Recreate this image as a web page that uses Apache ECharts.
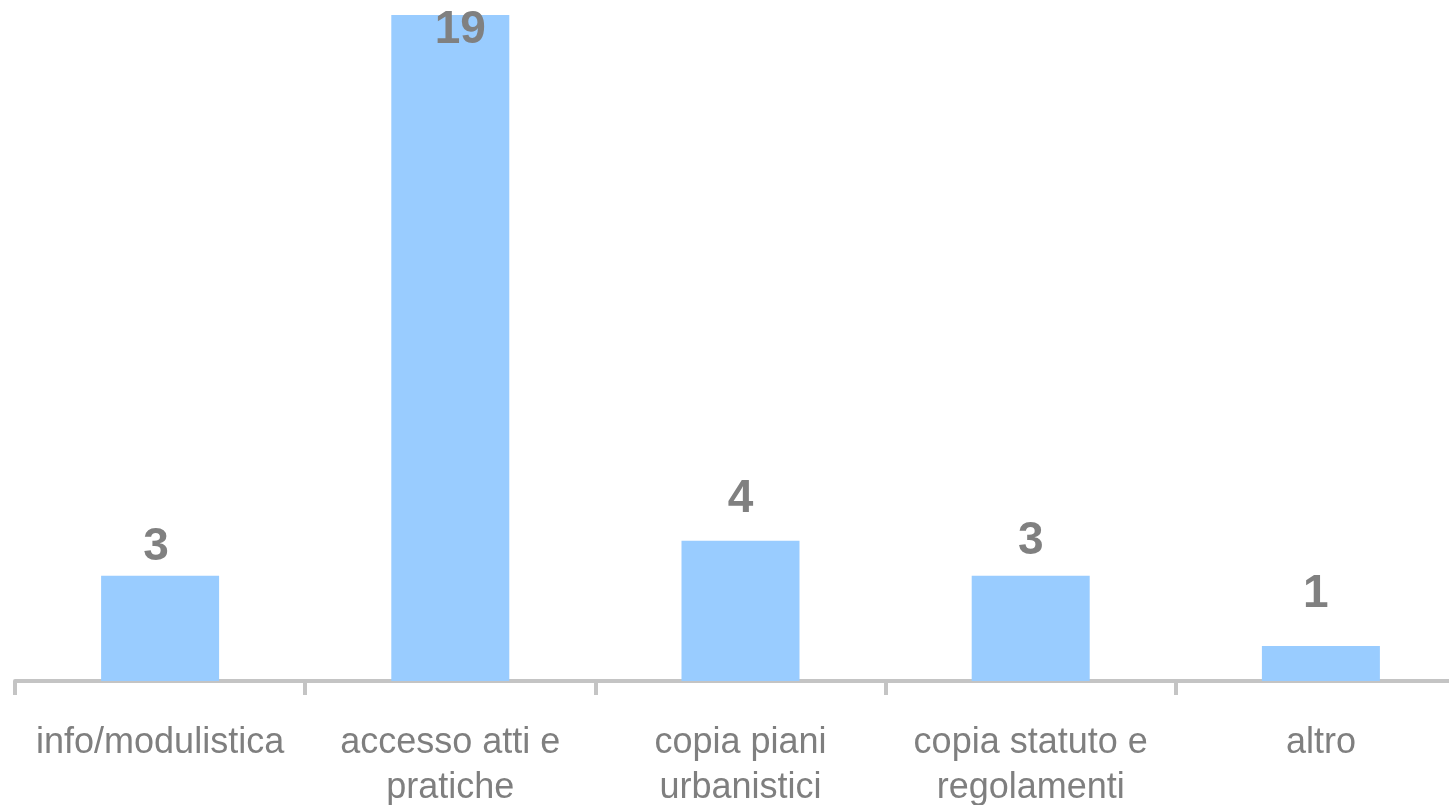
<!DOCTYPE html>
<html>
<head>
<meta charset="utf-8">
<script src="https://cdn.jsdelivr.net/npm/echarts@6/dist/echarts.min.js"></script>
<style>
  html, body { margin: 0; padding: 0; background: #ffffff; }
  #chart { width: 1449px; height: 805px; }
</style>
</head>
<body>
<div id="chart"></div>
<script>
// Richieste per tipologia
const categories = [
  'info/modulistica',
  'accesso atti e\npratiche',
  'copia piani\nurbanistici',
  'copia statuto e\nregolamenti',
  'altro'
];
const requests = [3, 19, 4, 3, 1];

// Hand-placed value labels: gap above the bar and sideways nudge (px)
const labelGap = [6, -8, 18, 12, 29];
const labelShiftX = [-4, 10, 0, 0, -5];

const FONT = '"Liberation Sans", Arial, sans-serif';
const maxValue = Math.max(...requests);

const chart = echarts.init(document.getElementById('chart'), null, { renderer: 'canvas' });

const barData = requests.map((v, i) => ({
  value: v,
  label: {
    // the tallest bar keeps its label inside the plot, over the bar top
    position: v === maxValue ? 'insideTop' : 'top',
    distance: labelGap[i],
    offset: [labelShiftX[i], 0]
  }
}));

chart.setOption({
  animation: false,
  backgroundColor: '#ffffff',
  grid: {
    left: 15, top: 15, right: -17, bottom: 124,
    containLabel: false,
    outerBoundsMode: 'none'
  },
  xAxis: {
    type: 'category',
    data: categories,
    axisLine: { lineStyle: { color: '#c4c4c4', width: 4 } },
    axisTick: { show: true, length: 14, lineStyle: { color: '#c4c4c4', width: 4 } },
    axisLabel: {
      color: '#7f7f7f',
      fontFamily: FONT,
      fontSize: 36,
      lineHeight: 45,
      margin: 40,
      interval: 0
    },
    splitLine: { show: false }
  },
  yAxis: {
    type: 'value',
    min: 0,
    max: maxValue,
    show: false
  },
  series: [{
    type: 'bar',
    barWidth: 118,
    itemStyle: { color: '#99ccff' },
    data: barData,
    label: {
      show: true,
      color: '#808080',
      fontFamily: FONT,
      fontSize: 46,
      fontWeight: 'bold'
    }
  }]
});
</script>
</body>
</html>
